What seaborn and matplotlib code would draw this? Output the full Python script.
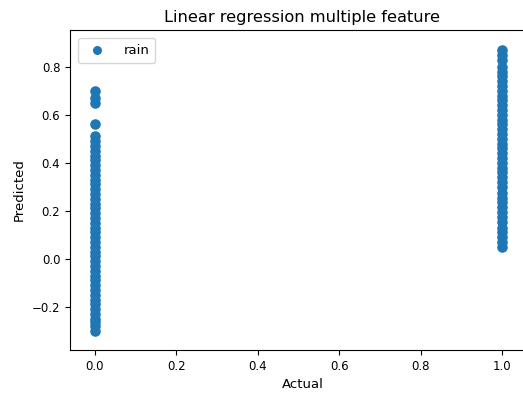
import matplotlib
matplotlib.use("Agg")
import matplotlib.pyplot as plt
import seaborn as sns
import pandas as pd

# predicted values for days with actual rain == 0
pred_no_rain = [-0.30, -0.28, -0.265, -0.25, -0.23, -0.21, -0.19, -0.17, -0.15, -0.13,
                -0.11, -0.09, -0.07, -0.05, -0.03, -0.01, 0.01, 0.03, 0.05, 0.07,
                0.09, 0.11, 0.13, 0.15, 0.17, 0.19, 0.21, 0.23, 0.25, 0.27,
                0.29, 0.31, 0.33, 0.35, 0.37, 0.39, 0.41, 0.43, 0.45, 0.47,
                0.49, 0.51, 0.56, 0.65, 0.67, 0.70]
# predicted values for days with actual rain == 1
pred_rain = [0.05, 0.07, 0.09, 0.11, 0.13, 0.155, 0.175, 0.195, 0.215, 0.235,
             0.255, 0.275, 0.30, 0.32, 0.34, 0.36, 0.38, 0.40, 0.42, 0.44,
             0.46, 0.48, 0.50, 0.52, 0.54, 0.56, 0.58, 0.60, 0.62, 0.64,
             0.66, 0.68, 0.70, 0.72, 0.74, 0.76, 0.78, 0.80, 0.83, 0.85, 0.87]

actual = [0.0] * len(pred_no_rain) + [1.0] * len(pred_rain)
predicted = pred_no_rain + pred_rain
df = pd.DataFrame({"Actual": actual, "Predicted": predicted})

plt.rcParams['font.family'] = ['DejaVu Sans']
fig = plt.figure(figsize=(5.23, 3.98), dpi=100)
# the original image is cropped on the right, so the axes run past the edge
ax = fig.add_axes([70 / 523, 48 / 398, 465 / 523, 320 / 398])

sns.scatterplot(data=df, x="Actual", y="Predicted", label="rain",
                color="#1f77b4", s=58, edgecolor=None, linewidth=0, ax=ax)

ax.set_xlim(-0.0614, 1.081)
ax.set_ylim(-0.38, 0.953)

ax.set_title("Linear regression multiple feature", fontsize=11.7)
ax.set_xlabel("Actual", fontsize=9.5)
ax.set_ylabel("Predicted", fontsize=9.5)
ax.tick_params(labelsize=8.5)
ax.legend(loc="upper left", fontsize=9.5, borderpad=0.45, handletextpad=1.0,
          borderaxespad=0.6, markerscale=0.85)

fig.savefig("out.png", dpi=100)
